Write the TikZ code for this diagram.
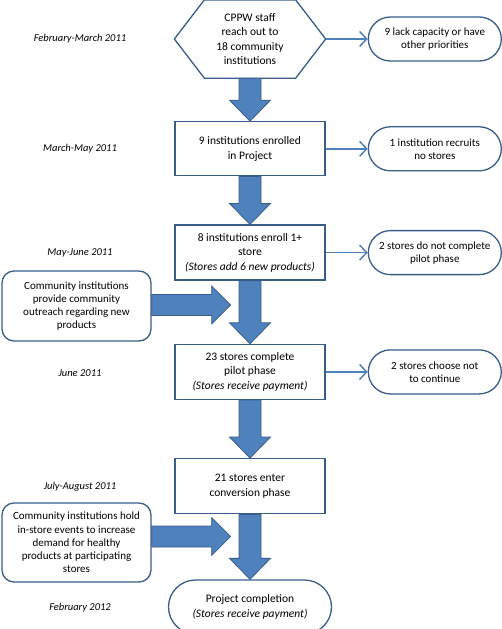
\documentclass[tikz,border=0pt]{standalone}
\usepackage{fontspec}
\setmainfont{Carlito}
\usepackage{tikz}
\usetikzlibrary{positioning,calc,arrows.meta}
\definecolor{fillblue}{HTML}{4F81BD}
\definecolor{lineblue}{HTML}{385D8A}

\begin{document}
\begin{tikzpicture}[x=1pt,y=1pt]
\tikzstyle{main}=[rectangle, draw=lineblue, line width=1.3pt, minimum width=150pt, minimum height=55pt, align=center, font=\fontsize{11.5}{14.5}\selectfont]
\tikzstyle{side}=[rectangle, rounded corners=22pt, draw=lineblue, line width=1.3pt, minimum width=133pt, minimum height=44pt, align=center, font=\fontsize{11}{13}\selectfont]
\tikzstyle{note}=[rectangle, rounded corners=12pt, draw=lineblue, line width=1.3pt, minimum width=149pt, align=center, font=\fontsize{11}{13.2}\selectfont]
\tikzstyle{date}=[font=\fontsize{10.5}{12}\selectfont\itshape]
\tikzstyle{connect}=[-{Straight Barb[length=7pt,width=15pt]}, fillblue, line width=1.5pt]
\tikzstyle{fat}=[fill=fillblue, draw=lineblue, line width=0.8pt]
  \useasboundingbox (0,0) rectangle (502,-629);
  % main column
  \node[main, draw=none, minimum height=77pt] (reach) at (250,-39) {CPPW staff\\reach out to\\18 community\\institutions};
  \draw[lineblue, line width=1.3pt] (reach.west) -- ([xshift=30pt]reach.north west) -- ([xshift=-30pt]reach.north east)
    -- (reach.east) -- ([xshift=-30pt]reach.south east) -- ([xshift=30pt]reach.south west) -- cycle;
  \node[main, minimum height=54pt, below=43pt of reach] (enrolled) {9 institutions enrolled\\in Project};
  \node[main, below=48pt of enrolled] (enroll) {8 institutions enroll 1+\\store\\\textit{(Stores add 6 new products)}};
  \node[main, below=63pt of enroll] (pilot) {23 stores complete\\pilot phase\\\textit{(Stores receive payment)}};
  \node[main, below=58pt of pilot] (conversion) {21 stores enter\\conversion phase};
  \node[main, rounded corners=27pt, minimum width=163pt, minimum height=54pt, below=65pt of conversion] (done) {Project completion\\\textit{(Stores receive payment)}};
  % drop outs
  \node[side, right=42pt of reach] (lack) {9 lack capacity or have\\other priorities};
  \node[side, right=42pt of enrolled] (recruits) {1 institution recruits\\no stores};
  \node[side, right=42pt of enroll] (incomplete) {2 stores do not complete\\pilot phase};
  \node[side, right=42pt of pilot] (stop) {2 stores choose not\\to continue};
  \path (reach) edge [connect] (lack)
        (enrolled) edge [connect] (recruits)
        (enroll) edge [connect] (incomplete)
        (pilot) edge [connect] (stop);
  % community input
  \node[note, minimum height=70pt] (outreach) at (76.5,-306) {Community institutions\\provide community\\outreach regarding new\\products};
  \node[note, minimum height=79pt] (events) at (76.5,-542.5) {Community institutions hold\\in-store events to increase\\demand for healthy\\products at participating\\stores};
  \coordinate (tipa) at ([xshift=79pt,yshift=1pt]outreach.east);
  \coordinate (tipb) at ([xshift=79pt,yshift=6pt]events.east);
  % dates
  \coordinate (datecol) at (80,0);
  \node[date] (d1) at (datecol |- reach) {February-March 2011};
  \node[date] (d2) at (datecol |- enrolled) {March-May 2011};
  \node[date] (d3) at (datecol |- enroll) {May-June 2011};
  \node[date] (d4) at ([yshift=-1pt]datecol |- pilot) {June 2011};
  \node[date] (d5) at ([yshift=-1pt]datecol |- conversion) {July-August 2011};
  \node[date] (d6) at ([yshift=-1pt]datecol |- done) {February 2012};
  % block arrows
  \foreach \a/\b in {reach/enrolled, enrolled/enroll, enroll/pilot, pilot/conversion, conversion/done}
    \draw[fat] let \p1=(\a.south), \p2=(\b.north) in
      ({\x1-11},\y1) -- ({\x1-11},{\y2+21}) -- ({\x1-20.5},{\y2+21}) -- (\x1,\y2)
      -- ({\x1+20.5},{\y2+21}) -- ({\x1+11},{\y2+21}) -- ({\x1+11},\y1) -- cycle;
  \foreach \a/\b in {outreach/tipa, events/tipb}
    \draw[fat] let \p1=(\a.east), \p2=(\b) in
      (\x1,{\y2+10.5}) -- ({\x2-19},{\y2+10.5}) -- ({\x2-19},{\y2+19}) -- (\x2,\y2)
      -- ({\x2-19},{\y2-19}) -- ({\x2-19},{\y2-10.5}) -- (\x1,{\y2-10.5}) -- cycle;
\end{tikzpicture}
\end{document}
